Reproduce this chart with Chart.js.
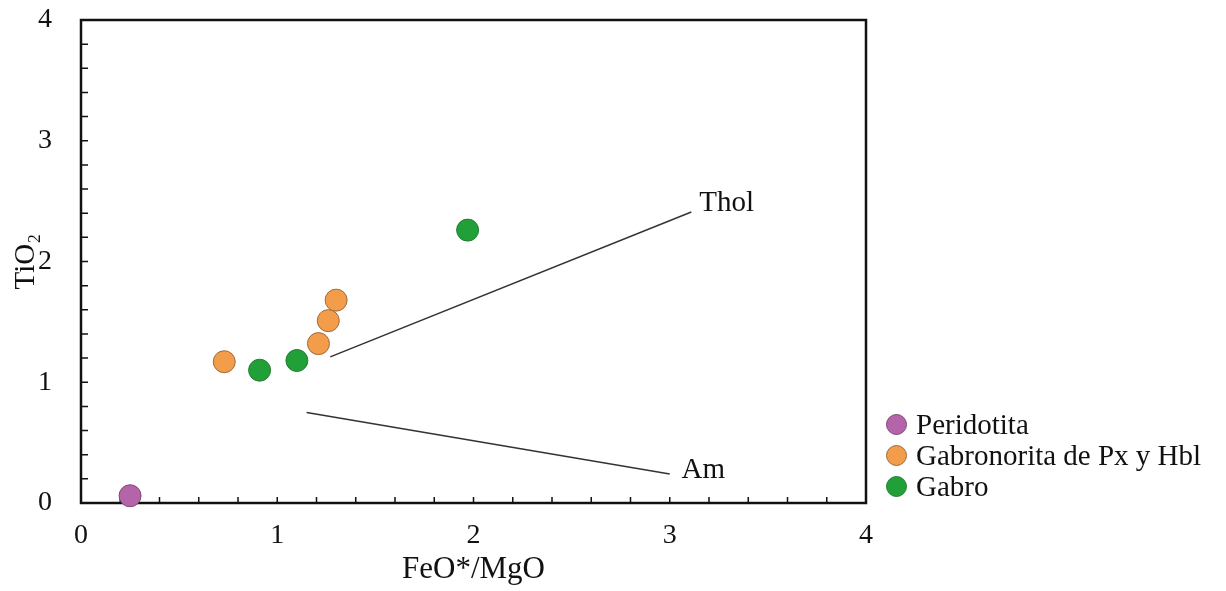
<!DOCTYPE html>
<html lang="es">
<head>
    <meta charset="UTF-8">
    <title>TiO2 vs FeO*/MgO</title>
    <style>
        body {
            margin: 0;
            background: #fff;
        }
        #wrap {
            position: relative;
            width: 1226px;
            height: 591px;
        }
        #legend {
            position: absolute;
            left: 886px;
            top: 409px;
            font-family: "Liberation Serif", "Times New Roman", serif;
            font-size: 29px;
            color: #111;
        }
        .legend-item {
            display: flex;
            align-items: center;
            height: 31px;
        }
        .legend-dot {
            width: 21px;
            height: 21px;
            border-radius: 50%;
            border: 1px solid #555;
            margin-right: 9px;
            box-sizing: border-box;
        }
    </style>
</head>
<body>
    <div id="wrap">
        <canvas id="chart" width="1226" height="591"></canvas>
        <div id="legend"></div>
    </div>

    <script src="https://cdn.jsdelivr.net/npm/chart.js"></script>
    <script>
        // values
        const seriesNames = ['Peridotita', 'Gabronorita de Px y Hbl', 'Gabro'];
        const peridotitaX = [0.25];
        const peridotitaY = [0.06];
        const gabronoritaX = [0.73, 1.21, 1.26, 1.30];
        const gabronoritaY = [1.17, 1.32, 1.51, 1.68];
        const gabroX = [0.91, 1.10, 1.97];
        const gabroY = [1.10, 1.18, 2.26];

        // field boundary lines
        const tholX = [1.27, 3.11];
        const tholY = [1.21, 2.41];
        const amX = [1.15, 3.00];
        const amY = [0.75, 0.24];
        const lineLabels = ['Thol', 'Am'];
        const lineLabelX = [3.15, 3.06];
        const lineLabelY = [2.48, 0.27];

        const xTicks = [0, 1, 2, 3, 4];
        const yTicks = [0, 1, 2, 3, 4];

        const fillColors = ['#b564a9', '#f39d4b', '#20a036'];
        const edgeColors = ['#7a4a74', '#9c6a3c', '#2b7a33'];
        const serif = '"Liberation Serif", "Times New Roman", serif';

        function toPoints(xs, ys) {
            return xs.map((x, i) => ({ x: x, y: ys[i] }));
        }

        const pointSets = [
            toPoints(peridotitaX, peridotitaY),
            toPoints(gabronoritaX, gabronoritaY),
            toPoints(gabroX, gabroY)
        ];

        const datasets = pointSets.map((pts, i) => ({
            label: seriesNames[i],
            data: pts,
            pointRadius: 11,
            pointBackgroundColor: fillColors[i],
            pointBorderColor: edgeColors[i],
            pointBorderWidth: 1,
            showLine: false,
            clip: false
        }));

        [[tholX, tholY], [amX, amY]].forEach(([xs, ys], i) => {
            datasets.push({
                label: lineLabels[i],
                data: toPoints(xs, ys),
                showLine: true,
                borderColor: '#333',
                borderWidth: 1.5,
                pointRadius: 0,
                fill: false
            });
        });

        // frame with inward minor ticks, plus the Thol / Am labels
        const framePlugin = {
            id: 'frame',
            beforeDatasetsDraw(chart) {
                const { ctx, chartArea: a, scales: { x, y } } = chart;
                ctx.save();
                ctx.strokeStyle = '#111';
                ctx.lineWidth = 1.5;
                ctx.beginPath();
                for (let v = 0.2; v < 3.99; v += 0.2) {
                    const px = x.getPixelForValue(v);
                    ctx.moveTo(px, a.bottom);
                    ctx.lineTo(px, a.bottom - 6);
                    const py = y.getPixelForValue(v);
                    ctx.moveTo(a.left, py);
                    ctx.lineTo(a.left + 7, py);
                }
                ctx.stroke();
                ctx.lineWidth = 2.5;
                ctx.strokeRect(a.left, a.top, a.right - a.left, a.bottom - a.top);
                ctx.restore();
            },
            afterDraw(chart) {
                const { ctx, scales: { x, y } } = chart;
                ctx.save();
                ctx.fillStyle = '#111';
                ctx.font = '29px ' + serif;
                ctx.textBaseline = 'middle';
                lineLabels.forEach((t, i) => {
                    ctx.fillText(t, x.getPixelForValue(lineLabelX[i]), y.getPixelForValue(lineLabelY[i]));
                });
                ctx.restore();
            }
        };

        new Chart(document.getElementById('chart'), {
            type: 'scatter',
            data: { datasets: datasets },
            options: {
                responsive: false,
                animation: false,
                events: [],
                layout: { padding: { top: 20, right: 360, left: 0, bottom: 0 } },
                plugins: {
                    legend: { display: false },
                    tooltip: { enabled: false }
                },
                scales: {
                    x: {
                        type: 'linear',
                        min: 0,
                        max: 4,
                        grid: { display: false },
                        border: { display: false },
                        afterBuildTicks: s => { s.ticks = xTicks.map(v => ({ value: v })); },
                        ticks: {
                            font: { family: serif, size: 28 },
                            color: '#111',
                            padding: 8
                        },
                        title: {
                            display: true,
                            text: 'FeO*/MgO',
                            font: { family: serif, size: 31 },
                            color: '#111',
                            padding: { top: 0, bottom: 3 }
                        },
                        afterFit: s => {
                            s.height = 88;
                            s.paddingLeft = 0;
                            s.paddingRight = 0;
                        }
                    },
                    y: {
                        type: 'linear',
                        min: 0,
                        max: 4,
                        grid: { display: false },
                        border: { display: false },
                        afterBuildTicks: s => { s.ticks = yTicks.map(v => ({ value: v })); },
                        ticks: {
                            font: { family: serif, size: 28 },
                            color: '#111',
                            padding: 21
                        },
                        title: {
                            display: true,
                            text: 'TiO₂',
                            font: { family: serif, size: 29 },
                            color: '#111',
                            padding: { top: 9, bottom: 0 }
                        },
                        afterFit: s => {
                            s.width = 81;
                            s.paddingTop = 0;
                            s.paddingBottom = 0;
                        }
                    }
                }
            },
            plugins: [framePlugin]
        });

        // legend
        const legend = document.getElementById('legend');
        seriesNames.forEach((name, i) => {
            const row = document.createElement('div');
            row.className = 'legend-item';
            row.innerHTML = `<span class="legend-dot" style="background:${fillColors[i]};border-color:${edgeColors[i]}"></span><span>${name}</span>`;
            legend.appendChild(row);
        });
    </script>
</body>
</html>
